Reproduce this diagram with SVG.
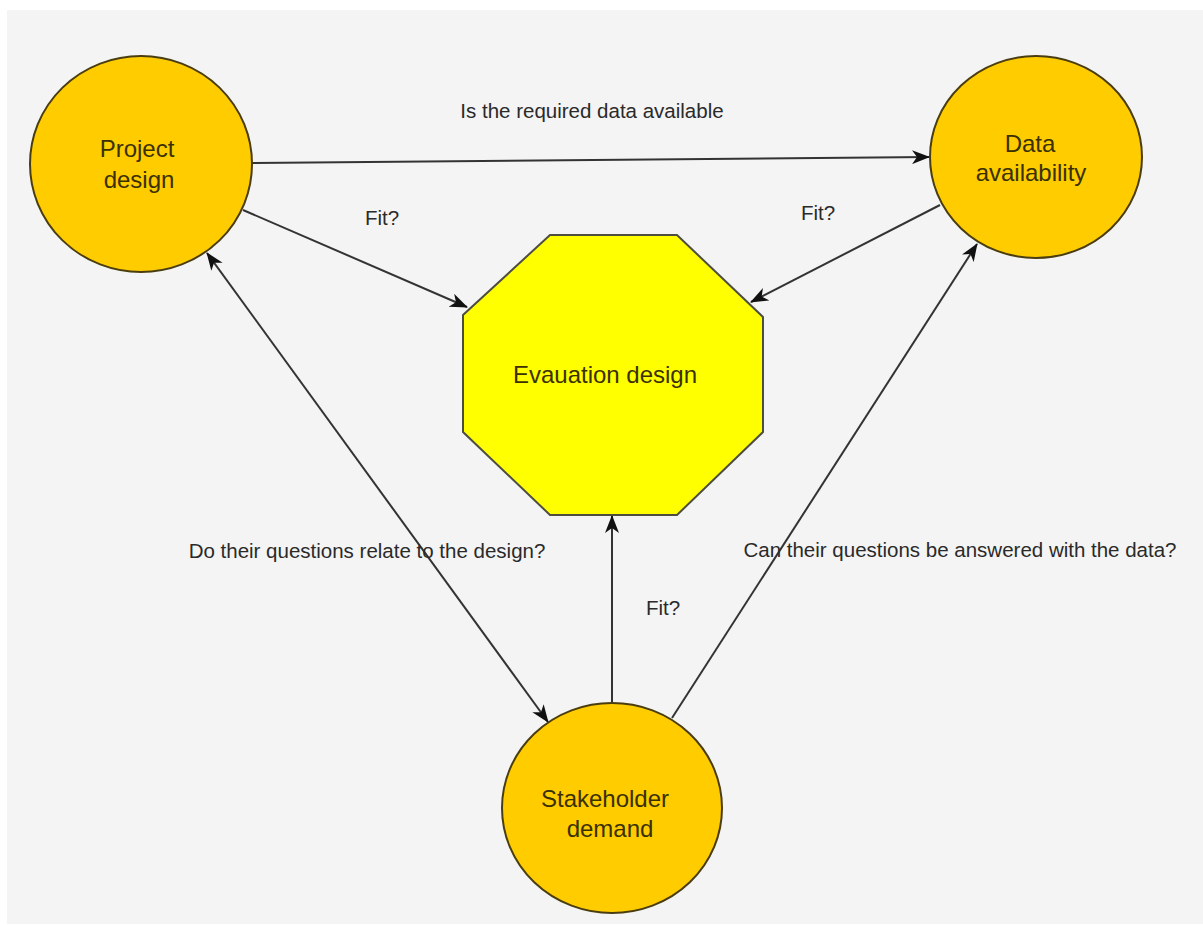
<svg xmlns="http://www.w3.org/2000/svg" width="1203" height="925" viewBox="0 0 1203 925">
<style>
.node{fill:#FFCC00;stroke:#4a3d10;stroke-width:2}
.oct{fill:#FFFF00;stroke:#4d4d40;stroke-width:2}
.ntxt{font-family:"Liberation Sans",Arial,sans-serif;font-size:24px;fill:#3a3000;text-anchor:middle}
.lbl{font-family:"Liberation Sans",Arial,sans-serif;font-size:20.5px;fill:#2a2a2a;text-anchor:middle}
.edge{stroke:#333;stroke-width:2;fill:none;marker-end:url(#ah)}
</style>
<defs>
<marker id="ah" markerUnits="userSpaceOnUse" markerWidth="18" markerHeight="14" refX="17" refY="7" orient="auto-start-reverse" viewBox="0 0 18 14">
<path d="M0,0 L18,7 L0,14 L5,7 z" fill="#111"/>
</marker>
</defs>
<rect x="0" y="0" width="1203" height="925" fill="#ffffff"/>
<rect x="7" y="10" width="1196" height="914" fill="#f4f4f4"/>
<g id="connectors">
<line class="edge" x1="252" y1="163" x2="929" y2="157"/>
<line class="edge" x1="243" y1="210" x2="467" y2="307"/>
<line class="edge" x1="940" y1="205" x2="751" y2="302"/>
<line class="edge" x1="207" y1="253" x2="548" y2="722" style="marker-start:url(#ah)"/>
<line class="edge" x1="672" y1="718" x2="977" y2="244"/>
<line class="edge" x1="612" y1="703" x2="612" y2="516"/>
<text class="lbl" x="592" y="118">Is the required data available</text>
<text class="lbl" x="382" y="225">Fit?</text>
<text class="lbl" x="818" y="220">Fit?</text>
<text class="lbl" x="367" y="558">Do their questions relate to the design?</text>
<text class="lbl" x="960" y="557">Can their questions be answered with the data?</text>
<text class="lbl" x="663" y="615">Fit?</text>
</g>
<g id="project-design">
<ellipse class="node" cx="141" cy="164" rx="111" ry="108"/>
<text class="ntxt" x="137" y="157">Project</text>
<text class="ntxt" x="139" y="188">design</text>
</g>
<g id="data-availability">
<ellipse class="node" cx="1036" cy="157" rx="106" ry="101"/>
<text class="ntxt" x="1030" y="152">Data</text>
<text class="ntxt" x="1031" y="181">availability</text>
</g>
<g id="stakeholder-demand">
<ellipse class="node" cx="612" cy="808" rx="110" ry="105"/>
<text class="ntxt" x="605" y="807">Stakeholder</text>
<text class="ntxt" x="610" y="837">demand</text>
</g>
<g id="evaluation-design">
<polygon class="oct" points="550,235 677,235 763,317 763,432 677,515 550,515 463,432 463,315"/>
<text class="ntxt" x="605" y="383">Evauation design</text>
</g>
</svg>
